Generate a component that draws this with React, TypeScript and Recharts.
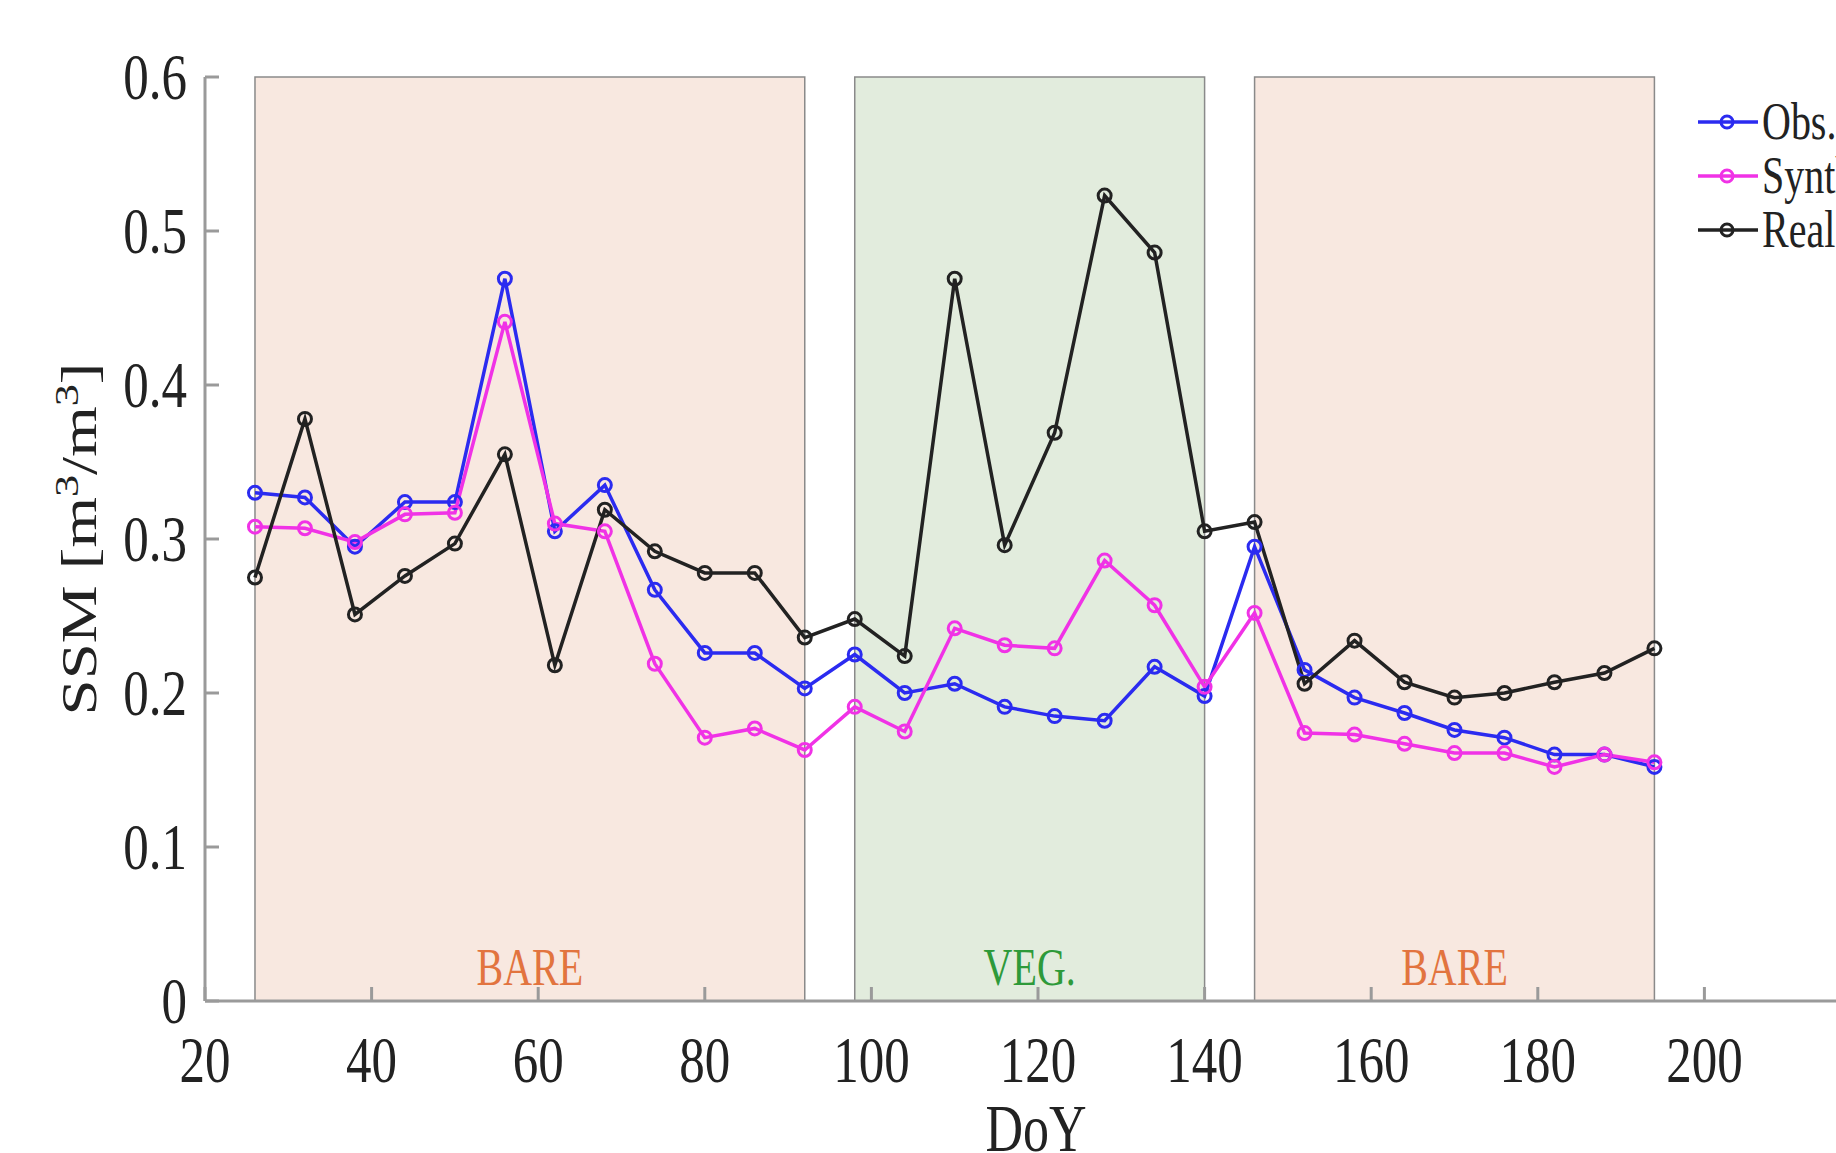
import React from 'react';
import {
  ComposedChart,
  Line,
  XAxis,
  YAxis,
  ReferenceArea,
  Legend,
} from 'recharts';

// DoY of each acquisition
const doy = [26, 32, 38, 44, 50, 56, 62, 68, 74, 80, 86, 92, 98, 104, 110, 116, 122, 128, 134, 140, 146, 152, 158, 164, 170, 176, 182, 188, 194];

const obs = [0.330, 0.327, 0.295, 0.324, 0.324, 0.469, 0.305, 0.335, 0.267, 0.226, 0.226, 0.203, 0.225, 0.200, 0.206, 0.191, 0.185, 0.182, 0.217, 0.198, 0.295, 0.215, 0.197, 0.187, 0.176, 0.171, 0.160, 0.160, 0.152];
const synth = [0.308, 0.307, 0.298, 0.316, 0.317, 0.441, 0.310, 0.305, 0.219, 0.171, 0.177, 0.163, 0.191, 0.175, 0.242, 0.231, 0.229, 0.286, 0.257, 0.204, 0.252, 0.174, 0.173, 0.167, 0.161, 0.161, 0.152, 0.160, 0.155];
const real = [0.275, 0.378, 0.251, 0.276, 0.297, 0.355, 0.218, 0.319, 0.292, 0.278, 0.278, 0.236, 0.248, 0.224, 0.469, 0.296, 0.369, 0.523, 0.486, 0.305, 0.311, 0.206, 0.234, 0.207, 0.197, 0.200, 0.207, 0.213, 0.229];

const xTicks = [20, 40, 60, 80, 100, 120, 140, 160, 180, 200];
const yTicks = [0, 0.1, 0.2, 0.3, 0.4, 0.5, 0.6];

const periods = [
  { from: 26, to: 92, name: 'BARE', kind: 'bare' },
  { from: 98, to: 140, name: 'VEG.', kind: 'veg' },
  { from: 146, to: 194, name: 'BARE', kind: 'bare' },
];

const series = [
  { key: 'obs', name: 'Obs.', color: '#2b2bf0' },
  { key: 'synth', name: 'Synthetic', color: '#f032e6' },
  { key: 'real', name: 'Real', color: '#222222' },
];

const data = doy.map((d, i) => ({ doy: d, obs: obs[i], synth: synth[i], real: real[i] }));

const FONT = '"Liberation Serif", "Times New Roman", serif';
const AXIS = '#9a9a9a';
const STRETCH = 1.3;

const XTick = (props: any) => {
  const { x, payload } = props;
  return (
    <text
      transform={`translate(${x},1060) scale(1,${STRETCH})`}
      textAnchor="middle"
      dominantBaseline="central"
      fontFamily={FONT}
      fontSize={51}
      fill="#222"
    >
      {payload.value}
    </text>
  );
};

const YTick = (props: any) => {
  const { y, payload } = props;
  return (
    <text
      transform={`translate(187,${y}) scale(1,${STRETCH})`}
      textAnchor="end"
      dominantBaseline="central"
      fontFamily={FONT}
      fontSize={51}
      fill="#222"
    >
      {payload.value}
    </text>
  );
};

const YLabel = () => (
  <text
    transform={`translate(96,539) rotate(-90) scale(${STRETCH},1)`}
    textAnchor="middle"
    fontFamily={FONT}
    fontSize={50}
    fill="#222"
  >
    SSM [m
    <tspan dy={-18} fontSize={34}>3</tspan>
    <tspan dy={18}>/m</tspan>
    <tspan dy={-18} fontSize={34}>3</tspan>
    <tspan dy={18}>]</tspan>
  </text>
);

const XLabel = () => (
  <text
    transform={`translate(1036,1128) scale(1,${STRETCH})`}
    textAnchor="middle"
    dominantBaseline="central"
    fontFamily={FONT}
    fontSize={52}
    fill="#222"
  >
    DoY
  </text>
);

const PeriodLabel = (text: string, color: string) => (props: any) => {
  const { viewBox } = props;
  const cx = viewBox.x + viewBox.width / 2;
  const by = viewBox.y + viewBox.height - 16;
  return (
    <text
      transform={`translate(${cx},${by}) scale(1,${STRETCH})`}
      textAnchor="middle"
      fontFamily={FONT}
      fontSize={40}
      fill={color}
    >
      {text}
    </text>
  );
};

const LegendBox = () => (
  <svg width={200} height={170}>
    {series.map((s, i) => (
      <g key={s.key}>
        <line x1={2} x2={62} y1={24 + i * 54} y2={24 + i * 54} stroke={s.color} strokeWidth={3.5} />
        <circle cx={31} cy={24 + i * 54} r={6} fill="none" stroke={s.color} strokeWidth={3} />
        <text
          transform={`translate(66,${24 + i * 54}) scale(1,${STRETCH})`}
          dominantBaseline="central"
          fontFamily={FONT}
          fontSize={40}
          fill="#222"
        >
          {s.name}
        </text>
      </g>
    ))}
  </svg>
);

const App: React.FC = () => {
  return (
    <div
      style={{
        position: 'absolute',
        left: 0,
        top: 0,
        width: 1836,
        height: 1153,
        overflow: 'hidden',
        background: '#fff',
      }}
    >
      <ComposedChart
        width={1900}
        height={1153}
        data={data}
        margin={{ top: 77, right: 29, bottom: 92, left: 120 }}
      >
        <XAxis
          dataKey="doy"
          type="number"
          domain={[20, 220]}
          ticks={xTicks}
          interval={0}
          height={60}
          stroke={AXIS}
          strokeWidth={3}
          tickSize={-14}
          tick={<XTick />}
          label={<XLabel />}
        />
        <XAxis
          xAxisId="top"
          orientation="top"
          dataKey="doy"
          type="number"
          domain={[20, 220]}
          ticks={xTicks}
          interval={0}
          height={0}
          stroke={AXIS}
          strokeWidth={3}
          tickSize={-14}
          tick={() => <g />}
        />
        <YAxis
          type="number"
          domain={[0, 0.6]}
          ticks={yTicks}
          interval={0}
          width={85}
          stroke={AXIS}
          strokeWidth={3}
          tickSize={-14}
          tick={<YTick />}
          label={<YLabel />}
        />
        {periods.map((p, i) => (
          <ReferenceArea
            key={i}
            x1={p.from}
            x2={p.to}
            y1={0}
            y2={0.6}
            fill={p.kind === 'bare' ? '#f8e8e0' : '#e2ecdd'}
            fillOpacity={1}
            stroke="#8a8a8a"
            strokeWidth={1.5}
            label={PeriodLabel(p.name, p.kind === 'bare' ? '#e2743f' : '#2e9a3a')}
          />
        ))}
        {series.map((s) => (
          <Line
            key={s.key}
            dataKey={s.key}
            name={s.name}
            stroke={s.color}
            strokeWidth={3.5}
            dot={{ r: 6.5, fill: 'none', stroke: s.color, strokeWidth: 3 }}
            isAnimationActive={false}
          />
        ))}
        <Legend
          layout="horizontal"
          align="center"
          verticalAlign="middle"
          content={<LegendBox />}
          wrapperStyle={{ position: 'absolute', left: 1696, top: 98, width: 200 }}
        />
      </ComposedChart>
    </div>
  );
};

export default App;
